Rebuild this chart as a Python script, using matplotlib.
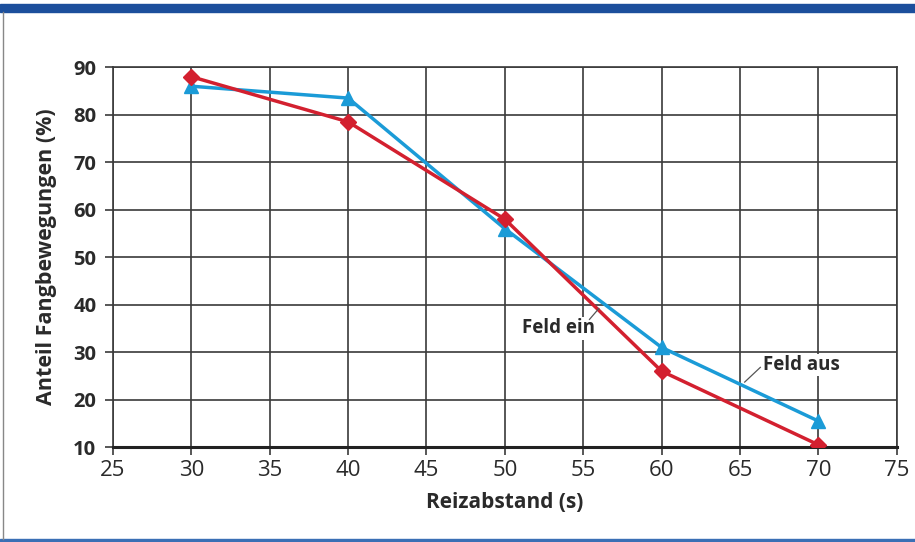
import numpy as np
import matplotlib
matplotlib.use("Agg")
import matplotlib.pyplot as plt
from matplotlib.lines import Line2D
from matplotlib.patches import Rectangle

# data
reizabstand = [30, 40, 50, 60, 70]
feld_ein = [88, 78.5, 58, 26, 10.5]   # red diamonds
feld_aus = [86, 83.5, 56, 31, 15.5]   # blue triangles
xticks = [25, 30, 35, 40, 45, 50, 55, 60, 65, 70, 75]
yticks = [10, 20, 30, 40, 50, 60, 70, 80, 90]

RED = "#d3202f"
BLUE = "#1b9bd7"
GRID = "#3a3a3a"

plt.rcParams['font.family'] = ['Open Sans', 'DejaVu Sans']

fig = plt.figure(figsize=(9.15, 5.42), dpi=100)
ax = fig.add_axes([0.1235, 0.175, 0.8565, 0.701])

ax.plot(reizabstand, feld_aus, color=BLUE, lw=2.5, marker="^", ms=10,
        zorder=3)
ax.plot(reizabstand, feld_ein, color=RED, lw=2.5, marker="D", ms=8,
        zorder=4)

ax.set_xlim(25, 75)
ax.set_ylim(10, 90)
ax.set_xticks(xticks)
ax.set_yticks(yticks)
ax.grid(True, color=GRID, lw=1.2)
ax.set_axisbelow(True)

for s in ["top", "right", "left"]:
    ax.spines[s].set_color(GRID)
    ax.spines[s].set_linewidth(1.2)
ax.spines["bottom"].set_linewidth(2.2)
ax.spines["bottom"].set_color("#222222")

ax.tick_params(axis="both", length=6, width=1.2, color=GRID,
               labelcolor="#2a2a2a")
ax.tick_params(axis="x", pad=3)
ax.tick_params(axis="y", pad=6)
for lab in ax.get_yticklabels():
    lab.set_fontsize(14.5)
    lab.set_fontweight("bold")
for lab in ax.get_xticklabels():
    lab.set_fontfamily(["Liberation Sans Narrow", "Open Sans"])
    lab.set_fontsize(16)

ax.set_xlabel("Reizabstand (s)", fontsize=15, fontweight="bold",
              color="#2a2a2a", labelpad=8)
ax.set_ylabel("Anteil Fangbewegungen (%)", fontsize=15.5,
              fontweight="bold", color="#2a2a2a", labelpad=12)

# line labels with short leader lines
ax.text(53.4, 35.0, "Feld ein", fontsize=13.5, fontweight="bold",
        color="#2a2a2a", ha="center", va="center",
        bbox=dict(facecolor="white", edgecolor="none", pad=1))
ax.plot([55.4, 56.0], [36.9, 39.2], color="#555555", lw=0.9, zorder=5)
ax.text(68.9, 27.3, "Feld aus", fontsize=13.5, fontweight="bold",
        color="#2a2a2a", ha="center", va="center",
        bbox=dict(facecolor="white", edgecolor="none", pad=1))
ax.plot([65.3, 66.3], [23.7, 26.8], color="#555555", lw=0.9, zorder=5)

# page frame: blue band on top, thin blue line at bottom, grey left edge
fig.patches.append(Rectangle((0, 1 - 12 / 542), 1, 8 / 542,
                             transform=fig.transFigure, color="#1c4f9c"))
fig.patches.append(Rectangle((0, 0), 1, 3 / 542,
                             transform=fig.transFigure, color="#3a6fb5"))
fig.lines.append(Line2D([3 / 915, 3 / 915], [3 / 542, 1 - 12 / 542],
                        transform=fig.transFigure, color="#888888", lw=1))

fig.savefig("out.png", dpi=100)
